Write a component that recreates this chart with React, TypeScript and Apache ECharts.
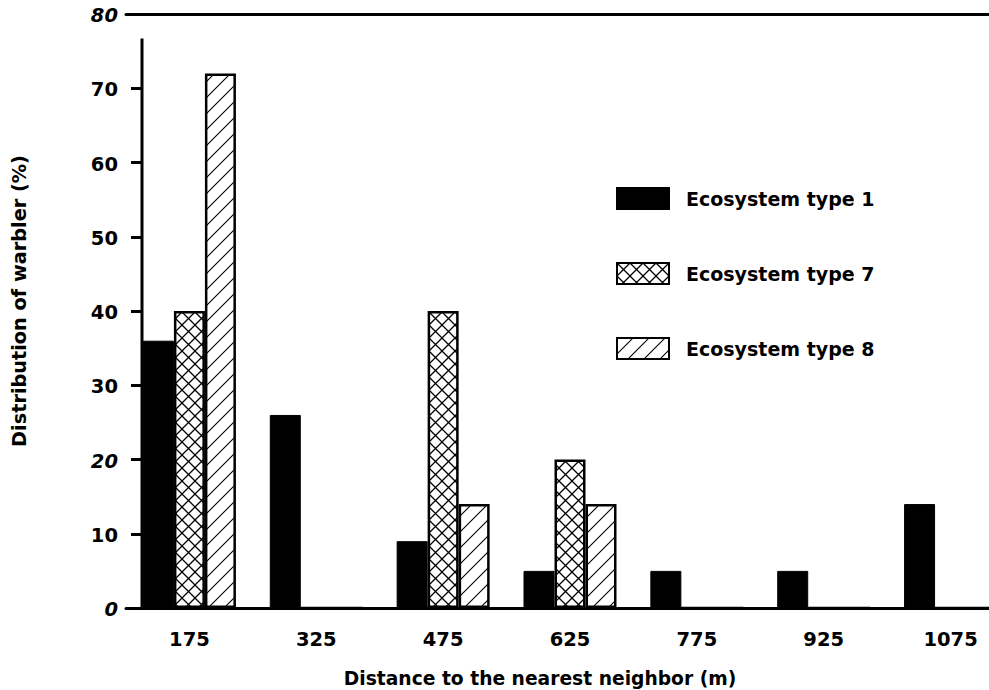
import React, { useEffect, useRef } from "react";
import * as echarts from "echarts";

const categories = ["175", "325", "475", "625", "775", "925", "1075"];
const seriesNames = ["Ecosystem type 1", "Ecosystem type 7", "Ecosystem type 8"];
const type1Values = [36, 26, 9, 5, 5, 5, 14];
const type7Values = [40, 0, 40, 20, 0, 0, 0];
const type8Values = [72, 0, 14, 14, 0, 0, 0];
const italicTicks = [0, 20, 80];
const yAxisTitle = "Distribution of warbler (%)";
const xAxisTitle = "Distance to the nearest neighbor (m)";
const yAxisLineTop = 76.7;

const FONT = "'DejaVu Sans', sans-serif";

function crossCanvas() {
  const s = 13;
  const c = document.createElement("canvas");
  c.width = s;
  c.height = s;
  const ctx = c.getContext("2d")!;
  ctx.fillStyle = "#fff";
  ctx.fillRect(0, 0, s, s);
  ctx.strokeStyle = "#000";
  ctx.lineWidth = 1.3;
  ctx.beginPath();
  ctx.moveTo(0, 0);
  ctx.lineTo(s, s);
  ctx.moveTo(s, 0);
  ctx.lineTo(0, s);
  ctx.stroke();
  return c;
}

function diagCanvas() {
  const s = 16;
  const c = document.createElement("canvas");
  c.width = s;
  c.height = s;
  const ctx = c.getContext("2d")!;
  ctx.fillStyle = "#fff";
  ctx.fillRect(0, 0, s, s);
  ctx.strokeStyle = "#000";
  ctx.lineWidth = 1.1;
  ctx.beginPath();
  ctx.moveTo(0, s);
  ctx.lineTo(s, 0);
  ctx.moveTo(-2, 2);
  ctx.lineTo(2, -2);
  ctx.moveTo(s - 2, s + 2);
  ctx.lineTo(s + 2, s - 2);
  ctx.stroke();
  return c;
}

export default function App() {
  const ref = useRef<HTMLDivElement>(null);

  useEffect(() => {
    document.body.style.margin = "0";
    if (!ref.current) return;
    const chart = echarts.init(ref.current, undefined, { renderer: "svg" });

    const cross = crossCanvas();
    const diag = diagCanvas();
    const crossPattern: any = { image: cross, repeat: "repeat", imageWidth: cross.width, imageHeight: cross.height };
    const diagPattern: any = { image: diag, repeat: "repeat", imageWidth: diag.width, imageHeight: diag.height };

    const gridLeft = 126;
    const yOffset = -16;

    chart.setOption({
      animation: false,
      backgroundColor: "#fff",
      grid: { left: gridLeft, top: 14, width: 888, height: 594, containLabel: false, outerBoundsMode: "none" },
      legend: {
        data: seriesNames,
        orient: "vertical",
        left: 616,
        top: 187,
        padding: 0,
        icon: "rect",
        itemWidth: 52,
        itemHeight: 21,
        itemGap: 52,
        textStyle: {
          fontFamily: FONT,
          fontWeight: "bold",
          fontSize: 19,
          color: "#000",
          padding: [0, 0, 0, 12],
        },
      },
      xAxis: [
        {
          type: "category",
          data: categories,
          position: "bottom",
          axisLine: { lineStyle: { color: "#000", width: 3 } },
          axisTick: { alignWithLabel: true, length: 8, lineStyle: { color: "#000", width: 3 } },
          axisLabel: { margin: 21, fontFamily: FONT, fontWeight: "bold", fontSize: 19.5, color: "#000" },
          splitLine: { show: false },
          name: xAxisTitle,
          nameLocation: "middle",
          nameGap: 61,
          nameTextStyle: {
            fontFamily: FONT,
            fontWeight: "bold",
            fontSize: 18.7,
            color: "#000",
            padding: [0, 60, 0, 0],
          },
        },
        {
          type: "category",
          data: categories,
          position: "top",
          axisLine: { lineStyle: { color: "#000", width: 3 } },
          axisTick: { show: false },
          axisLabel: { show: false },
          splitLine: { show: false },
        },
      ],
      yAxis: {
        type: "value",
        min: 0,
        max: 80,
        interval: 10,
        offset: yOffset,
        axisLine: { show: false },
        axisTick: { show: true, length: 11, lineStyle: { color: "#000", width: 3 } },
        splitLine: { show: false },
        axisLabel: {
          margin: 24,
          color: "#000",
          fontFamily: FONT,
          fontWeight: "bold",
          fontSize: 19.5,
          formatter: (v: number) => (italicTicks.includes(v) ? `{i|${v}}` : `{n|${v}}`),
          rich: {
            i: { fontFamily: FONT, fontWeight: "bold", fontStyle: "italic", fontSize: 19.5, color: "#000", padding: [3, 0, 0, 0] },
            n: { fontFamily: FONT, fontWeight: "bold", fontSize: 19.5, color: "#000", padding: [3, 0, 0, 0] },
          },
        },
      },
      series: [
        {
          name: seriesNames[0],
          type: "bar",
          data: type1Values,
          barWidth: 31,
          barGap: "0%",
          itemStyle: { color: "#000", borderColor: "#000", borderWidth: 1 },
        },
        {
          name: seriesNames[1],
          type: "bar",
          data: type7Values,
          barWidth: 31,
          barGap: "0%",
          itemStyle: { color: crossPattern, borderColor: "#000", borderWidth: 2.5 },
        },
        {
          name: seriesNames[2],
          type: "bar",
          data: type8Values,
          barWidth: 31,
          barGap: "0%",
          itemStyle: { color: diagPattern, borderColor: "#000", borderWidth: 2.5 },
        },
      ],
    });

    const axisX = gridLeft - yOffset;
    const yBottom = chart.convertToPixel({ yAxisIndex: 0 }, 0) as number;
    const yTop = chart.convertToPixel({ yAxisIndex: 0 }, yAxisLineTop) as number;

    chart.setOption({
      graphic: [
        {
          type: "line",
          shape: { x1: axisX, y1: yTop, x2: axisX, y2: yBottom },
          style: { stroke: "#000", lineWidth: 3 },
          z: 10,
        },
        {
          type: "text",
          x: 19,
          y: 301,
          rotation: Math.PI / 2,
          style: {
            text: yAxisTitle,
            fontFamily: FONT,
            fontWeight: "bold",
            fontSize: 19.3,
            fill: "#000",
            textAlign: "center",
            textVerticalAlign: "middle",
          },
        },
      ],
    });

    return () => chart.dispose();
  }, []);

  return <div ref={ref} style={{ width: 989, height: 690 }} />;
}
